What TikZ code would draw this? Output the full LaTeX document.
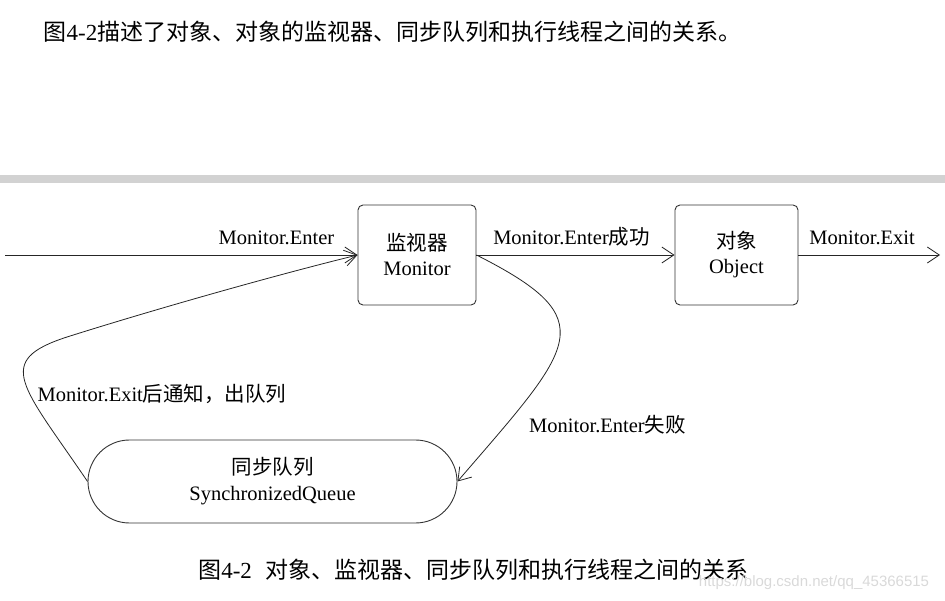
\documentclass[tikz,border=0pt]{standalone}
\usepackage{fontspec}
\setmainfont{Liberation Serif}
\newfontfamily\cjk{Noto Sans CJK SC}
\newfontfamily\wmfont{Liberation Sans}
\usepackage{tikz}
\usetikzlibrary{arrows.meta, shapes.misc, positioning, calc}

\begin{document}
\begin{tikzpicture}[x=1pt, y=1pt,
  box/.style={rectangle, rounded corners=5pt, draw=black!80, line width=0.9pt,
    minimum width=#1, minimum height=100pt, align=center, inner sep=0pt,
    font=\fontsize{20.5}{25}\selectfont},
  queuebox/.style={rounded rectangle, draw=black!80, line width=0.9pt,
    minimum width=369pt, minimum height=83pt, align=center, inner sep=0pt,
    font=\fontsize{20.5}{26}\selectfont},
  flow/.style={-{Straight Barb[length=12pt,width=16pt]}, line width=0.8pt, draw=black!85},
  lbl/.style={font=\fontsize{20.5}{24}\selectfont, inner sep=0pt, anchor=base},
  txt/.style={font=\fontsize{23}{28}\selectfont, inner sep=0pt, anchor=base},
]
\useasboundingbox (0,0) rectangle (945,600);

%% -- Header text and separator --------------------------------------------
\node[txt] (intro) at (392.5,559)
  {{\cjk 图}4-2{\cjk 描述了对象、对象的监视器、同步队列和执行线程之间的关系。}};
\fill[gray!35] (0,417) rectangle (945,425);

%% -- Main nodes ------------------------------------------------------------
\node[box=118pt] (mon) at (417,345) {{\cjk 监视器}\\Monitor};
\node[box=123pt] (obj) at (736.5,345) {{\cjk 对象}\\Object};
\node[queuebox] (queue) at (272.5,118.5) {{\cjk 同步队列}\\SynchronizedQueue};

\coordinate (inA) at (5,345);
\coordinate (outA) at (940,345);

%% -- Flows -----------------------------------------------------------------
\draw[flow] (inA) -- node[lbl, pos=0.77, yshift=10pt] {Monitor.Enter} (mon);
\draw[flow] (mon) -- node[lbl, pos=0.48, yshift=10pt] {Monitor.Enter{\cjk 成功}} (obj);
\draw[flow] (obj) -- node[lbl, pos=0.45, yshift=10pt] {Monitor.Exit} (outA);

\draw[flow] (mon.east) .. controls (605,280) and (575,255) .. (queue.east);
\node[lbl] (failLbl) at (607.5,167) {Monitor.Enter{\cjk 失败}};

\draw[flow] (queue.west) .. controls (22,215) and (-7,239) .. (67,263)
  .. controls (146,288) and (268,323) .. (mon.west);
\node[lbl] (exitLbl) at (162,198) {Monitor.Exit{\cjk 后通知，出队列}};

%% -- Caption ---------------------------------------------------------------
\node[txt] (caption) at (473.5,22)
  {{\cjk 图}4-2\hspace{0.6em}{\cjk 对象、监视器、同步队列和执行线程之间的关系}};
\node[font=\wmfont\fontsize{15}{18}\selectfont, text=gray!30, inner sep=0pt, anchor=base]
  (mark) at (814,14) {https://blog.csdn.net/qq\_45366515};

\end{tikzpicture}
\end{document}
